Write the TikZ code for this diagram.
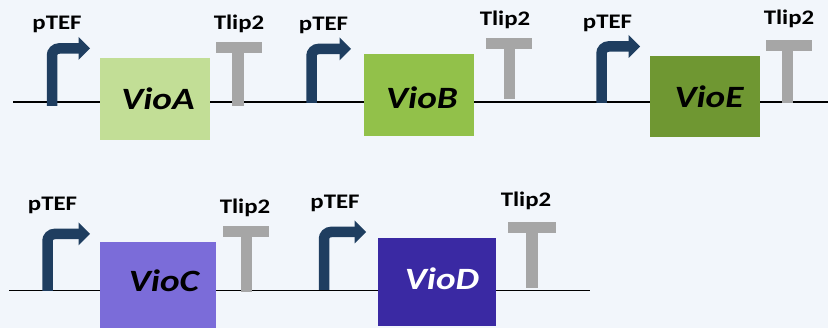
\documentclass[tikz,border=0pt]{standalone}
\usepackage{fontspec}
\newfontfamily\labfont[FakeStretch=1.2]{Carlito}
\definecolor{bgc}{HTML}{F2F6FB}
\definecolor{cA}{HTML}{C2DE96}
\definecolor{cB}{HTML}{92C14A}
\definecolor{cE}{HTML}{6F9732}
\definecolor{cC}{HTML}{7B6CD9}
\definecolor{cD}{HTML}{3A29A3}
\definecolor{promc}{HTML}{1F3E60}
\definecolor{termc}{HTML}{A6A6A6}
\tikzset{
  dna/.style={line width=1.8pt, black},
  promline/.style={line width=10.5pt, promc, rounded corners=7pt, line cap=butt},
  promhead/.style={fill=promc},
  termfill/.style={fill=termc},
  genebox/.style={draw=none, inner sep=0pt},
  lab/.style={font=\labfont\bfseries\fontsize{20.7}{24}\selectfont, inner sep=0pt, text height=13.3pt, text depth=0pt},
  genetxt/.style={font=\labfont\bfseries\itshape\fontsize{31}{36}\selectfont, inner sep=0pt, text height=20pt, text depth=0pt}
}
\newcommand\prm[4]{%
  \draw[promline] (#1,#2) -- (#1,#3) -- (#4-10,#3);
  \fill[promhead] (#4-11.5,#3-11.5) -- (#4,#3) -- (#4-11.5,#3+11.5) -- cycle;}
\newcommand\trm[5]{%
  \fill[termfill] (#1,#3) rectangle (#2,#3+11.5);
  \fill[termfill] (#4-5.75,#3+11) rectangle (#4+5.75,#5);}
\begin{document}
\begin{tikzpicture}[x=1pt,y=-1pt]
\fill[bgc] (0,0) rectangle (828,328);
\useasboundingbox (0,0) rectangle (828,328);
% DNA lines
\coordinate (l1s) at (13,102);
\coordinate (l1e) at (828,102);
\coordinate (l2s) at (9,290.5);
\coordinate (l2e) at (590,290.5);
\draw[dna] (l1s) -- (l1e);
\draw[dna] (l2s) -- (l2e);
% gene boxes
\node[genebox, fill=cA, minimum width=110pt, minimum height=82pt] (boxA) at (155,99) {};
\node[genebox, fill=cB, minimum width=110pt, minimum height=82pt] (boxB) at (419,95) {};
\node[genebox, fill=cE, minimum width=110pt, minimum height=81pt] (boxE) at (705,96.5) {};
\node[genebox, fill=cC, minimum width=116pt, minimum height=86pt] (boxC) at (158,285) {};
\node[genebox, fill=cD, minimum width=118pt, minimum height=88pt] (boxD) at (437,282) {};
\node[genetxt] (tA) at (158,100) {VioA};
\node[genetxt] (tB) at (422,99) {VioB};
\node[genetxt] (tE) at (709,98) {VioE};
\node[genetxt] (tC) at (164,282) {VioC};
\node[genetxt, text=white] (tD) at (442,280) {VioD};
% promoters
\prm{52}{106}{48.5}{90}
\prm{311.5}{103}{49}{351}
\prm{601.5}{103}{46.5}{640}
\prm{47.5}{291}{234}{90}
\prm{324}{290}{232}{366}
% terminators
\trm{216}{262}{42}{238}{106}
\trm{486}{532}{38}{509.5}{99}
\trm{766}{812}{40}{787.5}{103}
\trm{223}{269}{226}{246.5}{292}
\trm{508}{556}{222}{532}{288}
% labels
\node[lab] (p1) at (57,23.3) {pTEF};
\node[lab] (p2) at (323.5,23.5) {pTEF};
\node[lab] (p3) at (607.5,21.7) {pTEF};
\node[lab] (p4) at (52.5,204) {pTEF};
\node[lab] (p5) at (335,202) {pTEF};
\node[lab] (t1) at (239,22.5) {Tlip2};
\node[lab] (t2) at (505,18.7) {Tlip2};
\node[lab] (t3) at (789,18) {Tlip2};
\node[lab] (t4) at (245,206.5) {Tlip2};
\node[lab] (t5) at (526,200) {Tlip2};
\end{tikzpicture}
\end{document}
